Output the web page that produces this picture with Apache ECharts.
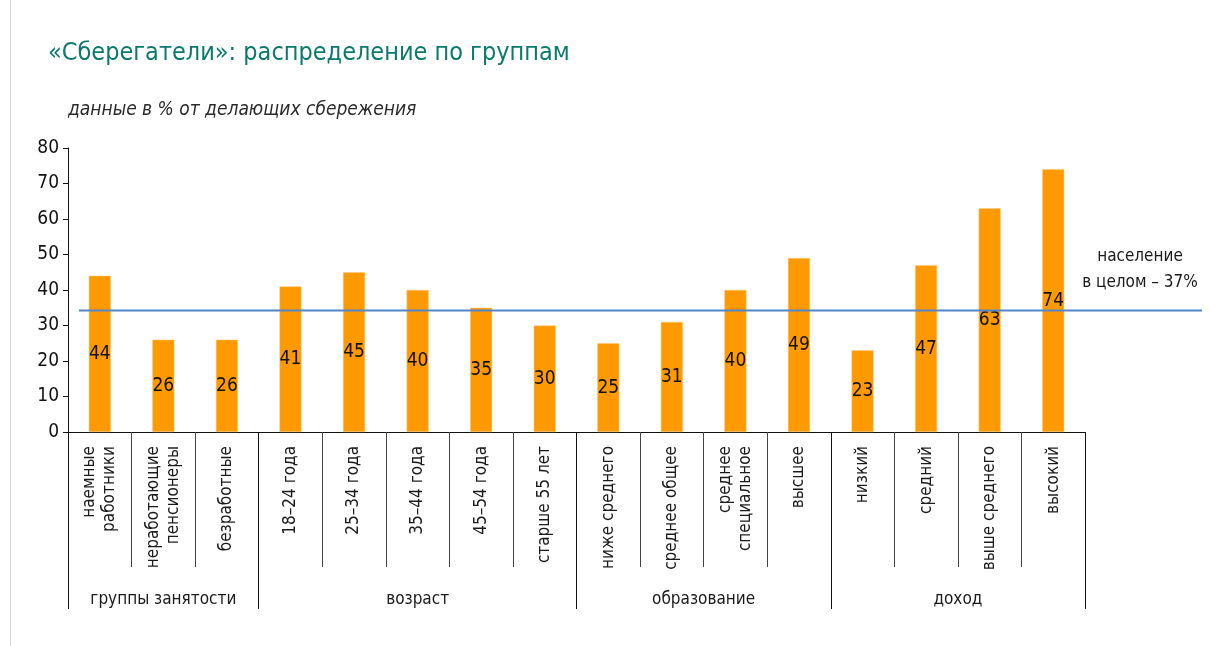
<!DOCTYPE html>
<html>
<head>
<meta charset="utf-8">
<script src="https://cdn.jsdelivr.net/npm/echarts@6/dist/echarts.min.js"></script>
<style>
  html, body { margin: 0; padding: 0; background: #fff; }
  #chart { height: 646px; width: 1200px; margin-left: 10px; border-left: 1px solid #d6d6d6; box-sizing: border-box; }
</style>
</head>
<body>
<div id="chart"></div>
<script>
// категории (подписи под осью)
var categories = [
  'наемные\nработники', 'неработающие\nпенсионеры', 'безработные',
  '18–24 года', '25–34 года', '35–44 года', '45–54 года', 'старше 55 лет',
  'ниже среднего', 'среднее общее', 'среднее\nспециальное', 'высшее',
  'низкий', 'средний', 'выше среднего', 'высокий'
];
var values = [44, 26, 26, 41, 45, 40, 35, 30, 25, 31, 40, 49, 23, 47, 63, 74];
var groupNames = ['группы занятости', 'возраст', 'образование', 'доход'];
var groupBounds = [0, 3, 8, 12, 16];
var groupCenters = [1.5, 5.5, 10, 14];
var populationLevel = 34.2; // линия "население в целом"

var FONT = '"Liberation Sans Narrow", "DejaVu Sans Condensed", "Noto Sans", sans-serif';

var chart = echarts.init(document.getElementById('chart'));

var option = {
  animation: false,
  textStyle: { fontFamily: FONT },
  title: [
    {
      text: '«Сберегатели»: распределение по группам',
      left: 32, top: 36,
      textStyle: { fontFamily: FONT, fontSize: 25, fontWeight: 'normal', color: '#0b7a6d' }
    },
    {
      text: 'данные в % от делающих сбережения',
      left: 52, top: 96,
      textStyle: { fontFamily: FONT, fontSize: 19, fontStyle: 'italic', fontWeight: 'normal', color: '#2a2a2a' }
    }
  ],
  grid: [
    { left: 57, right: 125, top: 148, bottom: 214, containLabel: false },
    { left: 68, right: 8, top: 148, bottom: 214, containLabel: false }
  ],
  xAxis: [
    {
      type: 'category',
      gridIndex: 0,
      data: categories,
      boundaryGap: true,
      axisLine: { show: true, lineStyle: { color: '#111', width: 1 } },
      axisTick: { show: true, interval: 0, length: 135, lineStyle: { color: '#444' } },
      axisLabel: {
        interval: 0, rotate: 90, margin: 14,
        fontSize: 17, lineHeight: 20, color: '#1a1a1a', fontFamily: FONT
      }
    },
    {
      type: 'value',
      gridIndex: 0,
      position: 'bottom',
      min: 0, max: 16,
      axisLine: { show: false },
      splitLine: { show: false },
      axisTick: { show: true, customValues: groupBounds, length: 177, lineStyle: { color: '#111' } },
      axisLabel: {
        customValues: groupCenters, margin: 159,
        fontSize: 17, color: '#1a1a1a', fontFamily: FONT,
        formatter: function (v) {
          var i = groupCenters.indexOf(v);
          return i >= 0 ? groupNames[i] : '';
        }
      }
    },
    { type: 'value', gridIndex: 1, min: 0, max: 1, show: false }
  ],
  yAxis: [
    {
      type: 'value',
      gridIndex: 0,
      min: 0, max: 80, interval: 10,
      axisLine: { show: true, lineStyle: { color: '#111' } },
      axisTick: { show: true, length: 5, lineStyle: { color: '#111' } },
      axisLabel: { fontSize: 19, color: '#111', margin: 9, fontFamily: FONT },
      splitLine: { show: false }
    },
    { type: 'value', gridIndex: 1, min: 0, max: 80, show: false }
  ],
  series: [
    {
      type: 'bar',
      xAxisIndex: 0, yAxisIndex: 0,
      data: values,
      barWidth: 22,
      itemStyle: { color: '#ff9900', borderColor: '#ffc97a', borderWidth: 0.5 },
      label: {
        show: true, position: 'inside',
        fontSize: 19, color: '#111', fontFamily: FONT
      },
      z: 2
    },
    {
      type: 'line',
      xAxisIndex: 2, yAxisIndex: 1,
      data: [[0, populationLevel], [1, populationLevel]],
      symbol: 'none',
      lineStyle: { color: '#5585c8', width: 2 },
      z: 3
    }
  ],
  graphic: [
    {
      type: 'text',
      x: 1129, y: 244,
      style: {
        text: 'население\nв целом – 37%',
        align: 'center',
        fontSize: 17, lineHeight: 26, fill: '#1a1a1a', fontFamily: FONT
      }
    }
  ]
};

chart.setOption(option);
</script>
</body>
</html>
